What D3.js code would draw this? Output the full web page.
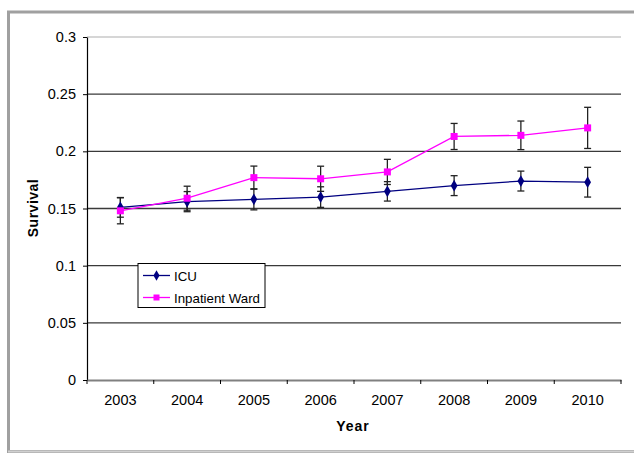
<!DOCTYPE html>
<html><head><meta charset="utf-8">
<script src="https://cdn.jsdelivr.net/npm/d3@7"></script>
<style>body{margin:0;background:#fff;}svg{display:block;font-family:"Liberation Sans",Arial,sans-serif;}</style>
</head><body><svg id="c" width="634" height="453"></svg>
<script>
const years = ["2003","2004","2005","2006","2007","2008","2009","2010"];
const icu = [0.151, 0.156, 0.158, 0.160, 0.165, 0.170, 0.174, 0.173];
const icuErr = [0.0086, 0.0088, 0.0092, 0.009, 0.0085, 0.0087, 0.0087, 0.013];
const ward = [0.148, 0.159, 0.177, 0.176, 0.182, 0.213, 0.214, 0.2205];
const wardErr = [0.0114, 0.0105, 0.0101, 0.011, 0.011, 0.0114, 0.0125, 0.018];
const yTicks = [0, 0.05, 0.1, 0.15, 0.2, 0.25, 0.3];
const yTickLabels = ["0","0.05","0.1","0.15","0.2","0.25","0.3"];

const FONT = "Liberation Sans, Arial, sans-serif";
const svg = d3.select("#c");
// outer frame
svg.append("rect").attr("x",8.5).attr("y",12).attr("width",640).attr("height",439.5)
  .attr("fill","none").attr("stroke","#a0a0a0").attr("stroke-width",3);
svg.append("line").attr("x1",8).attr("x2",634).attr("y1",451.5).attr("y2",451.5)
  .attr("stroke","#d0d0d0").attr("stroke-width",2);

const L=87, R=621, T=37, B=380;
const x = d3.scaleBand().domain(years).range([L,R]);
const y = d3.scaleLinear().domain([0,0.3]).range([B,T]);
const cx = d => x(d)+x.bandwidth()/2;

// gridlines
svg.append("g").selectAll("line").data(yTicks.filter(v=>v>0 && v<0.3)).join("line")
  .attr("x1",L).attr("x2",R).attr("y1",d=>y(d)).attr("y2",d=>y(d))
  .attr("stroke","#3a3a3a").attr("stroke-width",1.3);
// top border of plot
svg.append("line").attr("x1",L).attr("x2",R).attr("y1",T).attr("y2",T)
  .attr("stroke","#c8c8c8").attr("stroke-width",1.5);

// y axis
const yAxis = d3.axisLeft(y).tickValues(yTicks).tickFormat((d,i)=>yTickLabels[i]).tickSize(4).tickSizeOuter(0);
const gy = svg.append("g").attr("transform",`translate(${L},0)`).call(yAxis);
gy.select(".domain").attr("stroke","#000").attr("stroke-width",1.2);
gy.selectAll(".tick line").attr("stroke","#000");
gy.selectAll("text").attr("font-size",14.5).attr("fill","#000").attr("x",-11).attr("font-family",FONT);

// x axis
const xAxis = d3.axisBottom(x).tickSize(0);
const gx = svg.append("g").attr("transform",`translate(0,${B})`).call(xAxis);
gx.select(".domain").attr("stroke","#808080").attr("stroke-width",1.8);
gx.selectAll("text").attr("font-size",14.5).attr("fill","#000").attr("y",15).attr("dy","0.71em").attr("font-family",FONT);
// category boundary ticks
const bounds = years.map(d=>x(d)).concat([R]);
svg.append("g").selectAll("line").data(bounds).join("line")
  .attr("x1",d=>d).attr("x2",d=>d).attr("y1",B).attr("y2",B+4)
  .attr("stroke","#000").attr("stroke-width",1);

// titles
svg.append("text").attr("x",353).attr("y",431).attr("text-anchor","middle")
  .attr("font-size",14).attr("font-weight","bold").attr("letter-spacing","1px").attr("font-family",FONT).text("Year");
svg.append("text").attr("transform","translate(38,208) rotate(-90)").attr("text-anchor","middle")
  .attr("font-size",14).attr("font-weight","bold").attr("letter-spacing","0.5px").attr("font-family",FONT).text("Survival");

function errorBars(vals, errs){
  const g = svg.append("g").attr("stroke","#222").attr("stroke-width",1.3);
  years.forEach((yr,i)=>{
    const px = cx(yr), lo = y(vals[i]-errs[i]), hi = y(vals[i]+errs[i]);
    g.append("line").attr("x1",px).attr("x2",px).attr("y1",lo).attr("y2",hi);
    g.append("line").attr("x1",px-3.5).attr("x2",px+3.5).attr("y1",lo).attr("y2",lo);
    g.append("line").attr("x1",px-3.5).attr("x2",px+3.5).attr("y1",hi).attr("y2",hi);
  });
}
errorBars(icu, icuErr);
errorBars(ward, wardErr);

const line = d3.line().x((d,i)=>cx(years[i])).y(d=>y(d));
svg.append("path").datum(icu).attr("d",line).attr("fill","none").attr("stroke","#000080").attr("stroke-width",1.3);
svg.append("path").datum(ward).attr("d",line).attr("fill","none").attr("stroke","#ff00ff").attr("stroke-width",1.3);

const diamond = d3.symbol().type(d3.symbolDiamond).size(40);
svg.append("g").selectAll("path").data(icu).join("path")
  .attr("d",diamond).attr("transform",(d,i)=>`translate(${cx(years[i])},${y(d)})`).attr("fill","#000080");
svg.append("g").selectAll("rect").data(ward).join("rect")
  .attr("x",(d,i)=>cx(years[i])-3.5).attr("y",d=>y(d)-3.5).attr("width",7).attr("height",7).attr("fill","#ff00ff");

// legend
const lg = svg.append("g");
lg.append("rect").attr("x",138).attr("y",263.5).attr("width",127).attr("height",44)
  .attr("fill","#fff").attr("stroke","#000").attr("stroke-width",1);
const items = [{name:"ICU", color:"#000080", shape:"d"},{name:"Inpatient Ward", color:"#ff00ff", shape:"s"}];
items.forEach((it,i)=>{
  const yy = 275.5 + i*22;
  lg.append("line").attr("x1",143).attr("x2",170).attr("y1",yy).attr("y2",yy).attr("stroke",it.color).attr("stroke-width",1.3);
  if(it.shape==="d") lg.append("path").attr("d",d3.symbol().type(d3.symbolDiamond).size(32)).attr("transform",`translate(156.5,${yy})`).attr("fill",it.color);
  else lg.append("rect").attr("x",153.5).attr("y",yy-3).attr("width",6).attr("height",6).attr("fill",it.color);
  lg.append("text").attr("x",174).attr("y",yy+5).attr("font-size",13.3).attr("font-family",FONT).text(it.name);
});
</script></body></html>
